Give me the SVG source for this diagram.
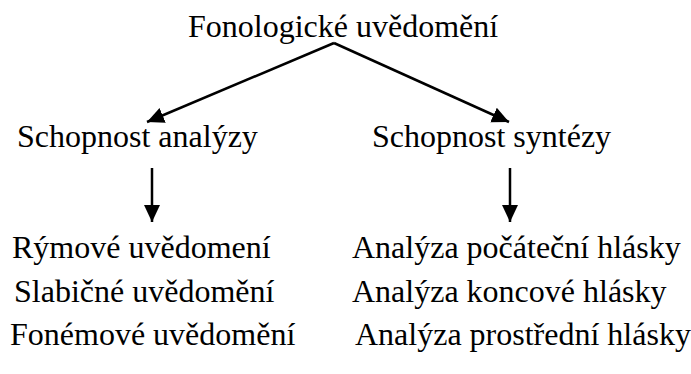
<svg xmlns="http://www.w3.org/2000/svg" width="691" height="374" viewBox="0 0 691 374">
<style>
text{font-family:'Liberation Serif','Times New Roman',Tinos,Times,'DejaVu Serif',serif;font-size:32px;fill:#000}
.c{stroke:#000;stroke-width:2.5;fill:none}
</style>
<defs>
<marker id="ah" markerUnits="userSpaceOnUse" markerWidth="18" markerHeight="18" refX="17" refY="8" orient="auto" viewBox="0 0 18 16">
<path d="M0,0 L17,8 L0,16 z" fill="#000"/>
</marker>
</defs>
<rect width="691" height="374" fill="#fff"/>
<g id="connectors">
<line class="c" x1="334" y1="43" x2="147" y2="122" marker-end="url(#ah)"/>
<line class="c" x1="334" y1="43" x2="509" y2="122" marker-end="url(#ah)"/>
<line class="c" x1="152" y1="168" x2="152" y2="222" marker-end="url(#ah)"/>
<line class="c" x1="510" y1="168" x2="510" y2="222" marker-end="url(#ah)"/>
</g>
<g id="root"><text font-family="Liberation Serif, serif" x="188" y="37">Fonologické uvědomění</text></g>
<g id="analyza"><text font-family="Liberation Serif, serif" x="17" y="147">Schopnost analýzy</text></g>
<g id="synteza"><text font-family="Liberation Serif, serif" x="372" y="147">Schopnost syntézy</text></g>
<g id="left-list">
<text font-family="Liberation Serif, serif" x="12" y="258">Rýmové uvědomení</text>
<text font-family="Liberation Serif, serif" x="14" y="302">Slabičné uvědomění</text>
<text font-family="Liberation Serif, serif" x="10" y="345">Fonémové uvědomění</text>
</g>
<g id="right-list">
<text font-family="Liberation Serif, serif" x="352" y="258">Analýza počáteční hlásky</text>
<text font-family="Liberation Serif, serif" x="352" y="302">Analýza koncové hlásky</text>
<text font-family="Liberation Serif, serif" x="355" y="345">Analýza prostřední hlásky</text>
</g>
</svg>
